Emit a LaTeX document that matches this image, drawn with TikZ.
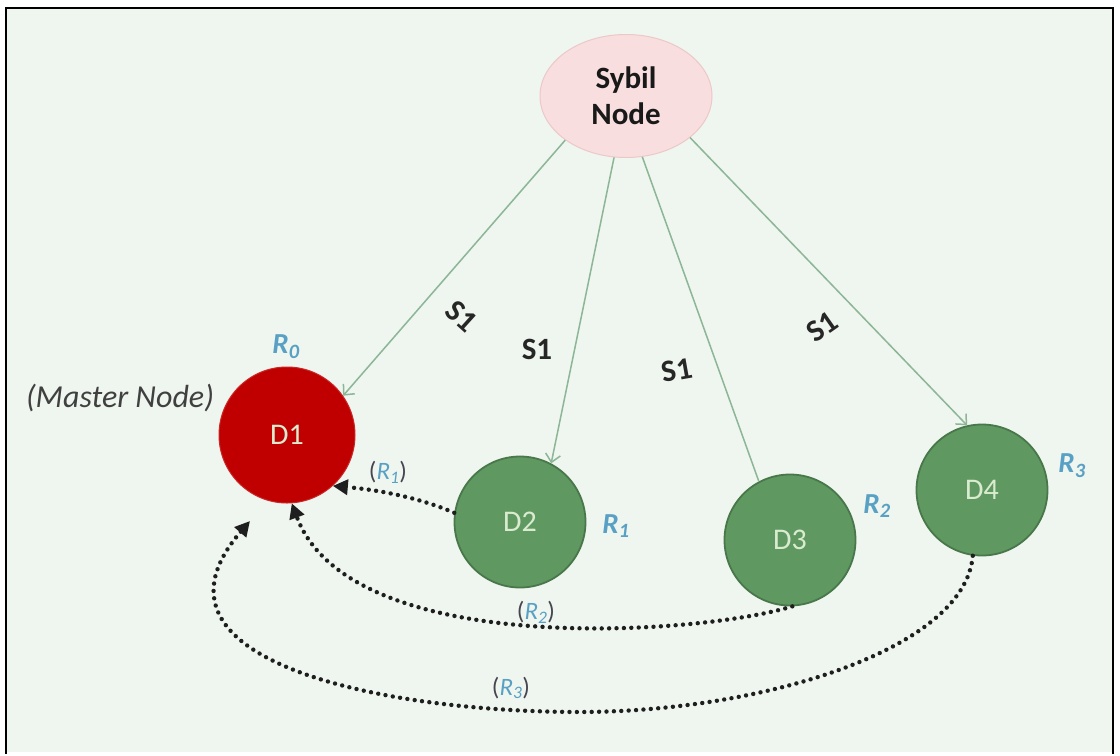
\documentclass[tikz,border=0pt]{standalone}
\usepackage{fontspec}
\setmainfont{Carlito}
\usetikzlibrary{arrows.meta,shapes.geometric}

\definecolor{bgc}{RGB}{239,245,239}
\definecolor{sybfill}{RGB}{248,222,222}
\definecolor{sybdraw}{RGB}{236,200,200}
\definecolor{redfill}{RGB}{192,0,0}
\definecolor{grnfill}{RGB}{96,152,98}
\definecolor{grndraw}{RGB}{72,120,74}
\definecolor{dtext}{RGB}{218,236,208}
\definecolor{rblue}{RGB}{88,160,196}
\definecolor{sline}{RGB}{140,182,150}
\definecolor{dotc}{RGB}{30,30,30}
\definecolor{parc}{RGB}{70,70,80}

\tikzset{
  devnode/.style={circle, minimum size=#1, inner sep=0pt, font=\fontsize{30}{32}\selectfont, text=dtext},
  greendev/.style={devnode=131pt, fill=grnfill, draw=grndraw, line width=1.8pt},
  reddev/.style={devnode=136pt, fill=redfill, draw=redfill!85!white, line width=1pt},
  sybilline/.style={draw=sline, line width=1.5pt, -{Straight Barb[length=8pt,width=15pt,line width=1.5pt]}},
  sybilplain/.style={draw=sline, line width=1.5pt},
  slabel/.style={inner sep=0pt, font=\bfseries\fontsize{31}{33}\selectfont, text=black!85},
  rlabel/.style={inner sep=0pt, font=\bfseries\itshape\fontsize{29}{31}\selectfont, text=rblue},
  replabel/.style={inner sep=0pt, font=\fontsize{25}{27}\selectfont, text=parc},
  reply/.style={draw=dotc, line width=4.4pt, line cap=round, dash pattern=on 0pt off 7.4pt,
    -{Triangle[length=15pt,width=15pt]}},
}

\newcommand{\rsub}[1]{{\color{rblue}\itshape R\textsubscript{#1}}}

\begin{document}
\begin{tikzpicture}[x=1pt,y=-1pt]
  % page and frame
  \fill[white] (0,0) rectangle (1120,754);
  \fill[bgc] (7,9) rectangle (1112,752);
  \draw[black, line width=2.5pt] (6,754) -- (6,8) -- (1113,8) -- (1113,754);

  % Sybil node
  \node[ellipse, minimum width=172pt, minimum height=123pt, fill=sybfill, draw=sybdraw, line width=1pt,
        align=center, font=\bfseries\fontsize{31}{36}\selectfont, text=black!90] (syb) at (626,96) {Sybil\\Node};

  % devices
  \node[reddev] (d1) at (287,435) {D1};
  \node[greendev] (d2) at (520,522) {D2};
  \node[greendev] (d3) at (790,540) {D3};
  \node[greendev] (d4) at (982,490) {D4};

  % Sybil links
  \draw[sybilline] (syb.-144) -- (d1.35);
  \draw[sybilline] (syb.-101) -- (d2.62);
  \draw[sybilplain] (syb.-75) -- (d3.118);
  \draw[sybilline] (syb.-33) -- (d4.103);

  \node[slabel, rotate=-42] (s1a) at (462,316) {S1};
  \node[slabel] (s1b) at (537,349) {S1};
  \node[slabel, rotate=10] (s1c) at (677,370) {S1};
  \node[slabel, rotate=35] (s1d) at (822,327) {S1};

  % labels
  \node[font=\itshape\fontsize{32}{34}\selectfont, text=black!75] (master) at (120,398) {(Master Node)};
  \node[rlabel] (r0) at (286,347) {R\textsubscript{0}};
  \node[rlabel] (r1) at (616,526) {R\textsubscript{1}};
  \node[rlabel] (r2) at (877,506) {R\textsubscript{2}};
  \node[rlabel] (r3) at (1072,466) {R\textsubscript{3}};

  % replies to the master node
  \coordinate (r3tip) at (250,521);
  \draw[reply] (d2.172) .. controls (420,498) and (380,490) .. (d1.-48);
  \draw[reply] (d3.-88) .. controls (700,635) and (350,660) .. (d1.-86);
  \draw[reply] (d4.-98) .. controls (965,650) and (760,712) .. (580,712)
                        .. controls (380,712) and (130,660) .. (r3tip);

  \node[replabel] (q1) at (388,472) {(\rsub{1})};
  \node[replabel] (q2) at (536,612) {(\rsub{2})};
  \node[replabel] (q3) at (511,688) {(\rsub{3})};
\end{tikzpicture}
\end{document}
